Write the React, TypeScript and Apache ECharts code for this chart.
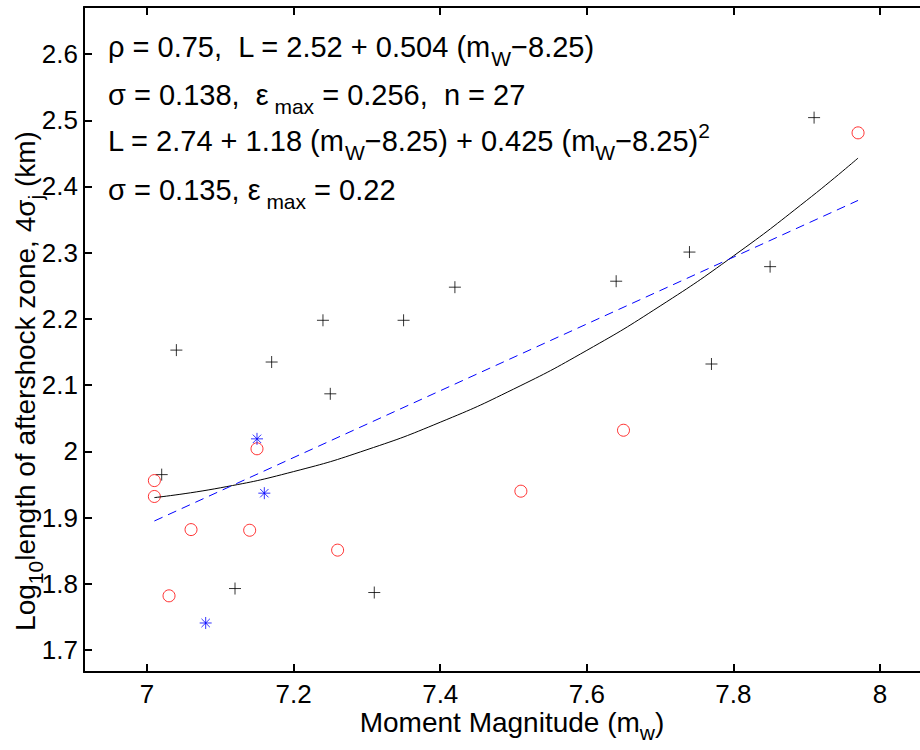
import React, { useEffect, useRef } from "react";
import * as echarts from "echarts";

// ---- data ----
const plusX = [7.02, 7.04, 7.12, 7.17, 7.24, 7.25, 7.31, 7.35, 7.42, 7.64, 7.74, 7.77, 7.85, 7.91];
const plusY = [1.965, 2.153, 1.793, 2.135, 2.198, 2.087, 1.787, 2.198, 2.248, 2.257, 2.301, 2.132, 2.279, 2.504];

const circleX = [7.01, 7.01, 7.03, 7.06, 7.14, 7.15, 7.26, 7.51, 7.65, 7.97];
const circleY = [1.956, 1.932, 1.782, 1.882, 1.881, 2.004, 1.851, 1.94, 2.032, 2.481];

const starX = [7.08, 7.15, 7.16];
const starY = [1.741, 2.019, 1.937];

// fitted curves (values of the printed fits at the plotted magnitudes)
const linFitX = [7.01, 7.97];
const linFitY = [1.895, 2.379];

const quadFitX = [7.01, 7.1, 7.2, 7.3, 7.4, 7.5, 7.6, 7.7, 7.8, 7.9, 7.97];
const quadFitY = [1.9303, 1.9451, 1.9696, 2.0026, 2.0441, 2.0941, 2.1526, 2.2196, 2.2951, 2.3791, 2.4429];

const xTicks = [7, 7.2, 7.4, 7.6, 7.8, 8];
const yTicks = [1.7, 1.8, 1.9, 2.0, 2.1, 2.2, 2.3, 2.4, 2.5, 2.6];

const FONT = "'Liberation Sans', Arial, Helvetica, sans-serif";

const zip = (xs: number[], ys: number[]) => xs.map((x, i) => [x, ys[i]]);

const PLUS = "path://M5 0L5 10M0 5L10 5";
const STAR = "path://M5 0L5 10M0 5L10 5M1.5 1.5L8.5 8.5M8.5 1.5L1.5 8.5";

export default function App() {
  const ref = useRef<HTMLDivElement>(null);

  useEffect(() => {
    if (!ref.current) return;
    const chart = echarts.init(ref.current, null, { renderer: "svg" });

    const fmt = (v: number) => String(parseFloat(Number(v).toFixed(1)));

    const axisLine = { show: true, lineStyle: { color: "#000", width: 2 } };
    const n = { fontSize: 29, fontFamily: FONT, color: "#000", verticalAlign: "middle" as const };
    const sub = { fontSize: 21, fontFamily: FONT, color: "#000", padding: [22, 0, 0, 0], verticalAlign: "middle" as const };
    const sup = { fontSize: 21, fontFamily: FONT, color: "#000", padding: [0, 0, 22, 0], verticalAlign: "middle" as const };
    const tn = { ...n, fontSize: 28 };
    const tsub = { ...sub, fontSize: 21, padding: [20, 0, 0, 0] };

    const annot = (y: number, text: string) => ({
      type: "text",
      x: 108,
      y,
      style: {
        text,
        rich: { n, sub, sup },
        verticalAlign: "middle",
        align: "left",
      },
      z: 100,
    });

    const tickStyle = { show: true, inside: true, length: 8, lineStyle: { color: "#000", width: 2 } };

    chart.setOption({
      animation: false,
      backgroundColor: "#fff",
      grid: { left: 84, top: 7, right: 0, bottom: 78 },
      xAxis: [
        {
          type: "value",
          min: 6.914,
          max: 8.0545,
          axisLine,
          splitLine: { show: false },
          axisTick: { ...tickStyle, customValues: xTicks },
          axisLabel: {
            customValues: xTicks,
            formatter: fmt,
            fontSize: 26,
            fontFamily: FONT,
            color: "#000",
            margin: 9,
          },
        },
        {
          type: "value",
          position: "top",
          min: 6.914,
          max: 8.0545,
          axisLine,
          splitLine: { show: false },
          axisTick: { ...tickStyle, customValues: xTicks },
          axisLabel: { show: false },
        },
      ],
      yAxis: {
        type: "value",
        min: 1.667,
        max: 2.671,
        axisLine,
        splitLine: { show: false },
        axisTick: { ...tickStyle, customValues: yTicks },
        axisLabel: {
          customValues: yTicks,
          formatter: fmt,
          fontSize: 26,
          fontFamily: FONT,
          color: "#000",
          margin: 6,
        },
      },
      series: [
        {
          type: "scatter",
          data: zip(plusX, plusY),
          symbol: PLUS,
          symbolSize: 12,
          itemStyle: { color: "transparent", borderColor: "#000", borderWidth: 1 },
        },
        {
          type: "scatter",
          data: zip(circleX, circleY),
          symbol: "circle",
          symbolSize: 12,
          itemStyle: { color: "transparent", borderColor: "#ff0000", borderWidth: 1 },
        },
        {
          type: "scatter",
          data: zip(starX, starY),
          symbol: STAR,
          symbolSize: 12,
          itemStyle: { color: "transparent", borderColor: "#0000ff", borderWidth: 1 },
        },
        {
          type: "line",
          data: zip(quadFitX, quadFitY),
          smooth: true,
          showSymbol: false,
          symbol: "none",
          lineStyle: { color: "#000", width: 1 },
        },
        {
          type: "line",
          data: zip(linFitX, linFitY),
          showSymbol: false,
          symbol: "none",
          lineStyle: { color: "#0000ff", width: 1, type: [9, 6] },
        },
      ],
      graphic: [
        annot(47, "{n|ρ = 0.75,  L = 2.52 + 0.504 (m}{sub|W}{n|−8.25)}"),
        annot(95, "{n|σ = 0.138,  ε}{sub| max}{n| = 0.256,  n = 27}"),
        annot(141, "{n|L = 2.74 + 1.18 (m}{sub|W}{n|−8.25) + 0.425 (m}{sub|W}{n|−8.25)}{sup|2}"),
        annot(190, "{n|σ = 0.135, ε}{sub| max}{n| = 0.22}"),
        {
          type: "text",
          x: 512,
          y: 722,
          style: {
            text: "{n|Moment Magnitude (m}{sub|w}{n|)}",
            rich: { n: tn, sub: tsub },
            align: "center",
            verticalAlign: "middle",
          },
        },
        {
          type: "text",
          x: 25,
          y: 381,
          rotation: Math.PI / 2,
          style: {
            text: "{n|Log}{sub|10}{n|length of aftershock zone, 4σ}{sub|j}{n| (km)}",
            rich: { n: tn, sub: tsub },
            align: "center",
            verticalAlign: "middle",
          },
        },
      ],
    });

    return () => chart.dispose();
  }, []);

  return (
    <div
      ref={ref}
      style={{ position: "fixed", left: 0, top: 0, width: 920, height: 750, background: "#fff" }}
    />
  );
}
